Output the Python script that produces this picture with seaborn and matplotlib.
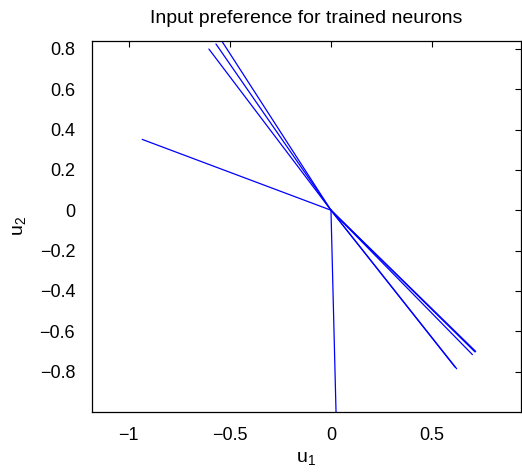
import numpy as np
import pandas as pd
import matplotlib
matplotlib.use("Agg")
import matplotlib.pyplot as plt
import seaborn as sns

# preferred input direction of each trained neuron (end point of segment from origin)
neuron = ["n1", "n2", "n3", "n4", "n5", "n6", "n7", "n8", "n9", "n10"]
u1_end = [-0.604, -0.569, -0.541, -0.934, 0.713, 0.716, 0.700, 0.622, 0.614, 0.025]
u2_end = [0.799, 0.824, 0.840, 0.351, -0.703, -0.700, -0.716, -0.786, -0.778, -1.000]

xticks = [-1, -0.5, 0, 0.5]
xtick_labels = ["\u22121", "\u22120.5", "0", "0.5"]
yticks = [-0.8, -0.6, -0.4, -0.2, 0, 0.2, 0.4, 0.6, 0.8]
ytick_labels = ["\u22120.8", "\u22120.6", "\u22120.4", "\u22120.2", "0", "0.2", "0.4", "0.6", "0.8"]

# long table: origin + end point for every neuron
rows = []
for n, x, y in zip(neuron, u1_end, u2_end):
    rows.append({"neuron": n, "step": 0, "u1": 0.0, "u2": 0.0})
    rows.append({"neuron": n, "step": 1, "u1": x, "u2": y})
df = pd.DataFrame(rows)

sns.set_style("white")
plt.rcParams["font.family"] = ["Liberation Sans", "DejaVu Sans"]
plt.rcParams["mathtext.fontset"] = "custom"
plt.rcParams["mathtext.rm"] = "Liberation Sans"
plt.rcParams["text.color"] = "black"
plt.rcParams["axes.labelcolor"] = "black"

fig = plt.figure(figsize=(5.22, 4.74), dpi=100)
ax = fig.add_axes([0.176, 0.131, 0.822, 0.783])

sns.lineplot(data=df, x="u1", y="u2", units="neuron", estimator=None, sort=False,
             color="#0000ff", linewidth=0.9, ax=ax)

ax.set_xlim(-1.183, 0.94)
ax.set_ylim(-1.0, 0.84)
ax.set_xticks(xticks)
ax.set_xticklabels(xtick_labels)
ax.set_yticks(yticks)
ax.set_yticklabels(ytick_labels)
ax.tick_params(direction="in", length=4, width=0.8, top=True, right=True,
               labelsize=13, colors="black")
ax.tick_params(axis="x", pad=11)
ax.tick_params(axis="y", pad=12)
for s in ax.spines.values():
    s.set_color("black")
    s.set_linewidth(0.9)

ax.set_title("Input preference for trained neurons", fontsize=14, pad=13, color="black")
ax.set_xlabel(r"$\mathregular{u_1}$", fontsize=14, labelpad=4)
ax.set_ylabel(r"$\mathregular{u_2}$", fontsize=14, labelpad=8)

fig.savefig("out.png", dpi=100)
